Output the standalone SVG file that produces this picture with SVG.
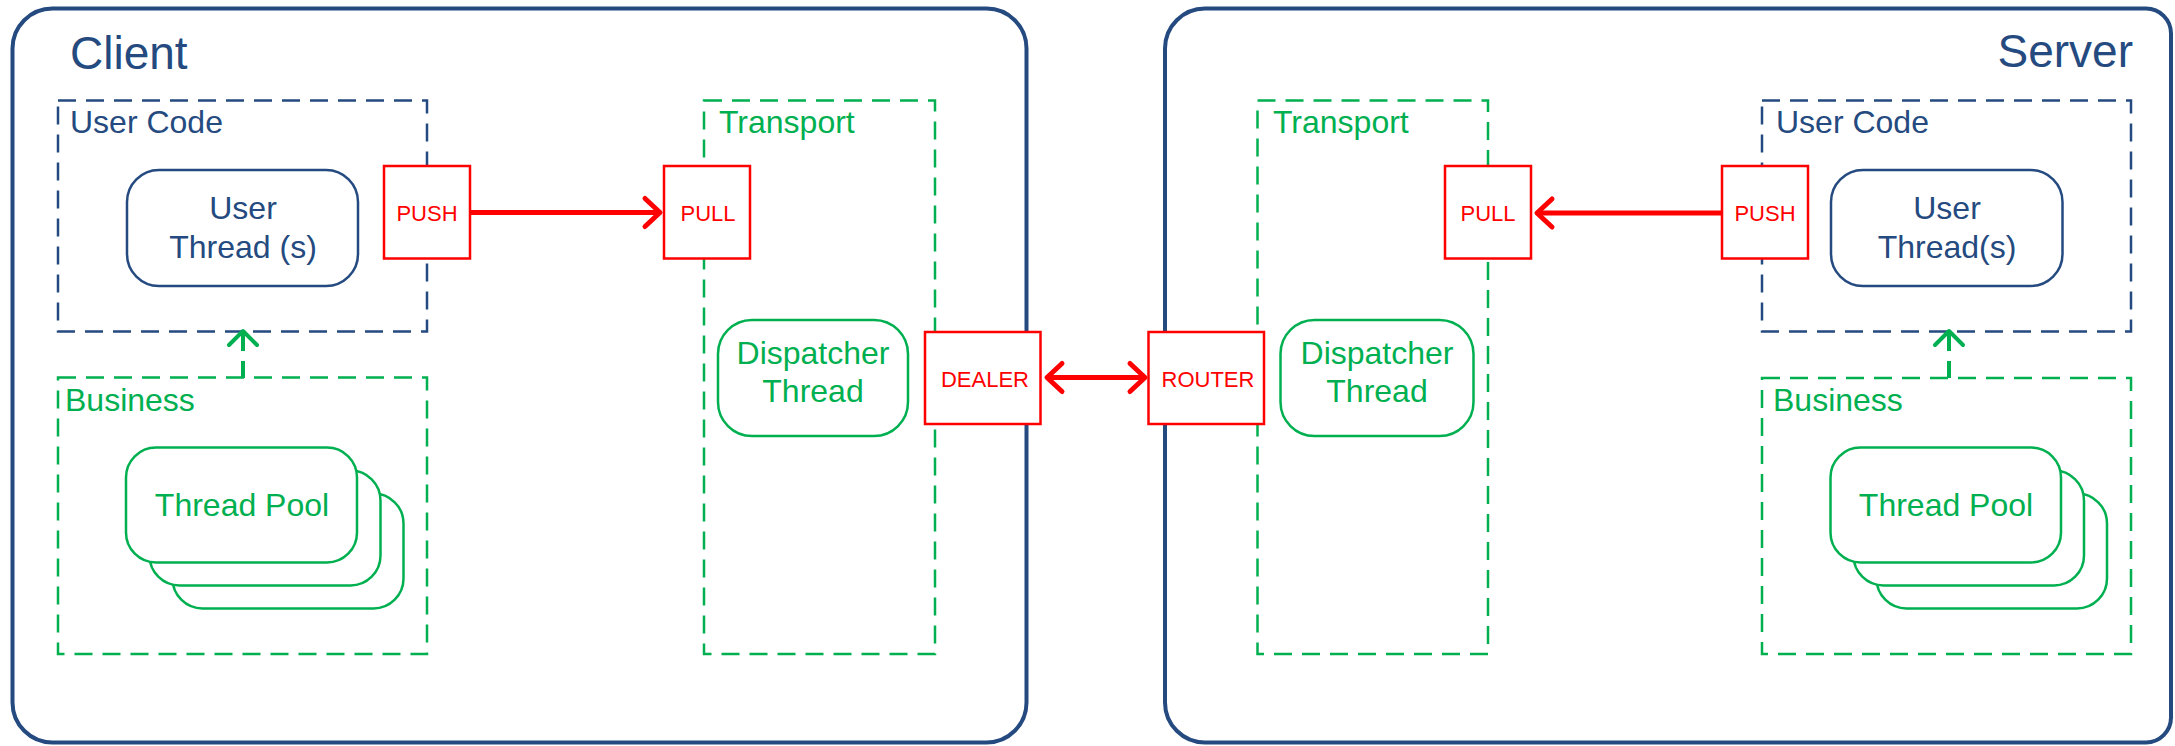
<svg xmlns="http://www.w3.org/2000/svg" width="2175" height="746" viewBox="0 0 2175 746">
  <style>
    .outer { fill: #FFFFFF; stroke: #244A80; stroke-width: 4; }
    .dashBlue { fill: none; stroke: #244A80; stroke-width: 2.5; stroke-dasharray: 18 10; }
    .dashGreen { fill: none; stroke: #00B050; stroke-width: 2.5; stroke-dasharray: 18 10; }
    .blueNode { fill: #FFFFFF; stroke: #244A80; stroke-width: 2.5; }
    .greenNode { fill: #FFFFFF; stroke: #00B050; stroke-width: 2.5; }
    .sock { fill: #FFFFFF; stroke: #FF0000; stroke-width: 2.5; }
    .title { font-family: "Liberation Sans", Arial, sans-serif; font-size: 46px; fill: #244A80; }
    .lblBlue { font-family: "Liberation Sans", Arial, sans-serif; font-size: 32px; fill: #244A80; }
    .lblGreen { font-family: "Liberation Sans", Arial, sans-serif; font-size: 32px; fill: #00B050; }
    .sockTxt { font-family: "Liberation Sans", Arial, sans-serif; font-size: 22px; fill: #FF0000; text-anchor: middle; }
    .mid { text-anchor: middle; }
    .redArrow { fill: none; stroke: #FF0000; stroke-width: 5; }
    .greenArrow { fill: none; stroke: #00B050; stroke-width: 4; stroke-dasharray: 17 10; }
  </style>
  <defs>
    <marker id="redHead" markerUnits="userSpaceOnUse" markerWidth="40" markerHeight="40" refX="0" refY="0" orient="auto-start-reverse" overflow="visible" viewBox="-20 -20 40 40">
      <path d="M-15,-14 L0,0 L-15,14" fill="none" stroke="#FF0000" stroke-width="5" stroke-linecap="round" stroke-linejoin="round"/>
    </marker>
    <marker id="greenHead" markerUnits="userSpaceOnUse" markerWidth="40" markerHeight="40" refX="0" refY="0" orient="auto" overflow="visible" viewBox="-20 -20 40 40">
      <path d="M-14,-14 L0,0 L-14,14" fill="none" stroke="#00B050" stroke-width="4" stroke-linecap="round" stroke-linejoin="round"/>
    </marker>
  </defs>

  <rect width="2175" height="746" fill="#FFFFFF"/>

  <!-- Client container -->
  <g id="client">
    <rect class="outer" x="12.5" y="8.5" width="1014" height="734" rx="40" ry="40"/>
    <text class="title" x="70" y="69">Client</text>
  </g>

  <!-- Server container -->
  <g id="server">
    <path class="outer" d="M1205,8.5 H2146 A25,25 0 0 1 2171,33.5 V717.5 A25,25 0 0 1 2146,742.5 H1205 A40,40 0 0 1 1165,702.5 V48.5 A40,40 0 0 1 1205,8.5 Z"/>
    <text class="title" x="2133" y="67" text-anchor="end">Server</text>
  </g>

  <!-- Client side groups -->
  <g id="client-user-code">
    <rect class="dashBlue" x="58" y="100.5" width="369" height="231"/>
    <text class="lblBlue" x="70" y="133">User Code</text>
  </g>
  <g id="client-user-thread">
    <rect class="blueNode" x="127" y="170" width="231" height="116" rx="32" ry="32"/>
    <text class="lblBlue mid" x="243" y="219">User</text>
    <text class="lblBlue mid" x="243" y="257.5">Thread (s)</text>
  </g>
  <g id="client-business">
    <rect class="dashGreen" x="58" y="377.5" width="369" height="276.5"/>
    <text class="lblGreen" x="65" y="411">Business</text>
  </g>
  <g id="client-thread-pool">
    <rect class="greenNode" x="172.5" y="493.5" width="231" height="115" rx="30" ry="30"/>
    <rect class="greenNode" x="149.5" y="470.5" width="231" height="115" rx="30" ry="30"/>
    <rect class="greenNode" x="126" y="447.5" width="231" height="115" rx="30" ry="30"/>
    <text class="lblGreen mid" x="242" y="516">Thread Pool</text>
  </g>
  <g id="client-transport">
    <rect class="dashGreen" x="704" y="100.5" width="231" height="553.5"/>
    <text class="lblGreen" x="719" y="133">Transport</text>
  </g>
  <g id="client-dispatcher">
    <rect class="greenNode" x="718" y="320" width="190" height="116" rx="34" ry="34"/>
    <text class="lblGreen mid" x="813" y="364">Dispatcher</text>
    <text class="lblGreen mid" x="813" y="401.5">Thread</text>
  </g>

  <!-- Server side groups -->
  <g id="server-transport">
    <rect class="dashGreen" x="1257.5" y="100.5" width="230.5" height="553.5"/>
    <text class="lblGreen" x="1273" y="133">Transport</text>
  </g>
  <g id="server-dispatcher">
    <rect class="greenNode" x="1280.5" y="320" width="193" height="116" rx="34" ry="34"/>
    <text class="lblGreen mid" x="1377" y="364">Dispatcher</text>
    <text class="lblGreen mid" x="1377" y="401.5">Thread</text>
  </g>
  <g id="server-user-code">
    <rect class="dashBlue" x="1762" y="100.5" width="369" height="231"/>
    <text class="lblBlue" x="1776" y="133">User Code</text>
  </g>
  <g id="server-user-thread">
    <rect class="blueNode" x="1831" y="170" width="231.5" height="116" rx="32" ry="32"/>
    <text class="lblBlue mid" x="1947" y="218.5">User</text>
    <text class="lblBlue mid" x="1947" y="257.5">Thread(s)</text>
  </g>
  <g id="server-business">
    <rect class="dashGreen" x="1762" y="378" width="369" height="276"/>
    <text class="lblGreen" x="1773" y="411">Business</text>
  </g>
  <g id="server-thread-pool">
    <rect class="greenNode" x="1876.5" y="493.5" width="230.5" height="115" rx="30" ry="30"/>
    <rect class="greenNode" x="1853.5" y="470.5" width="230.5" height="115" rx="30" ry="30"/>
    <rect class="greenNode" x="1830.5" y="447.5" width="230.5" height="115" rx="30" ry="30"/>
    <text class="lblGreen mid" x="1946" y="516">Thread Pool</text>
  </g>

  <!-- Sockets -->
  <g id="client-push">
    <rect class="sock" x="384" y="166" width="86" height="92.5"/>
    <text class="sockTxt" x="427" y="220.5">PUSH</text>
  </g>
  <g id="client-pull">
    <rect class="sock" x="664" y="166" width="86" height="92.5"/>
    <text class="sockTxt" x="708" y="220.5">PULL</text>
  </g>
  <g id="client-dealer">
    <rect class="sock" x="925" y="332" width="115.5" height="92"/>
    <text class="sockTxt" x="985" y="386.5">DEALER</text>
  </g>
  <g id="server-router">
    <rect class="sock" x="1148.5" y="332" width="115.5" height="92"/>
    <text class="sockTxt" x="1208" y="386.5">ROUTER</text>
  </g>
  <g id="server-pull">
    <rect class="sock" x="1445" y="166" width="86" height="92.5"/>
    <text class="sockTxt" x="1488" y="220.5">PULL</text>
  </g>
  <g id="server-push">
    <rect class="sock" x="1722" y="166" width="86" height="92.5"/>
    <text class="sockTxt" x="1765" y="220.5">PUSH</text>
  </g>

  <!-- Connectors -->
  <g id="connectors">
    <line class="redArrow" x1="470" y1="212.5" x2="660" y2="212.5" marker-end="url(#redHead)"/>
    <line class="redArrow" x1="1722" y1="213" x2="1537" y2="213" marker-end="url(#redHead)"/>
    <line class="redArrow" x1="1047" y1="377.5" x2="1145" y2="377.5" marker-start="url(#redHead)" marker-end="url(#redHead)"/>
    <line class="greenArrow" x1="243" y1="378" x2="243" y2="331" marker-end="url(#greenHead)"/>
    <line class="greenArrow" x1="1949" y1="378" x2="1949" y2="331" marker-end="url(#greenHead)"/>
  </g>
</svg>
